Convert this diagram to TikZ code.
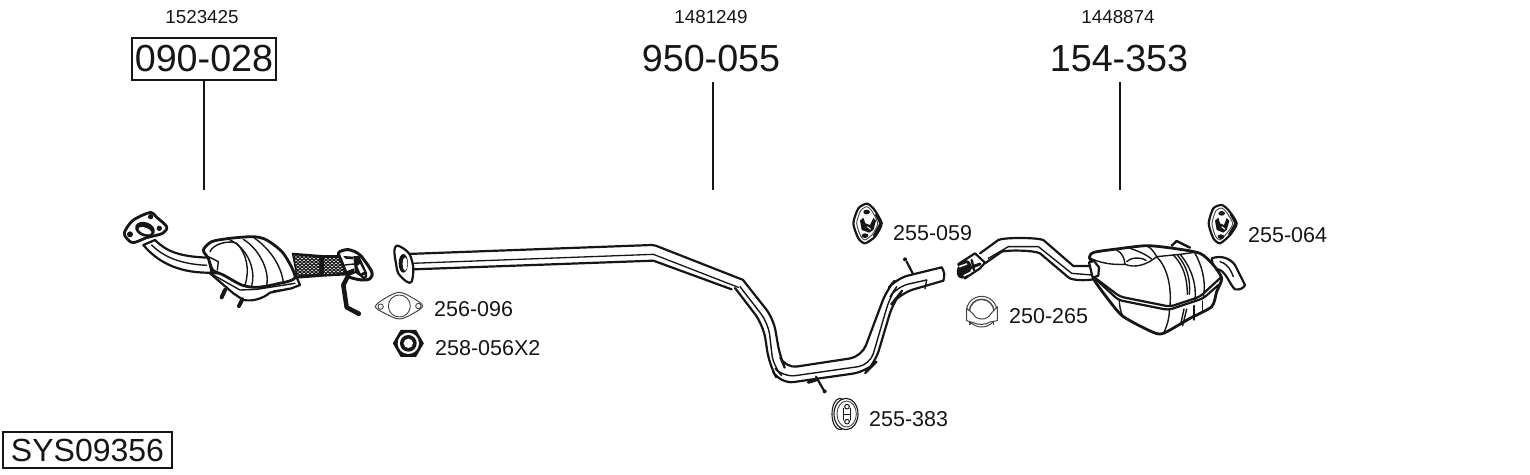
\documentclass[tikz,border=0pt]{standalone}
\usepackage{fontspec}
\setmainfont{Liberation Sans}
\usetikzlibrary{shapes.geometric}
\definecolor{ink}{HTML}{161616}
\tikzset{
 big/.style={font=\fontsize{37.7}{40}\selectfont,text=ink,inner sep=0pt},
 small/.style={font=\fontsize{18.8}{20}\selectfont,text=ink,inner sep=0pt},
 lab/.style={font=\fontsize{21.5}{24}\selectfont,text=ink,inner sep=0pt,anchor=west},
 leader/.style={draw=ink,line width=1.1pt},
 hv/.style={draw=ink,line width=2.2pt,line join=round,line cap=round},
 md/.style={draw=ink,line width=1.4pt,line join=round,line cap=round},
 th/.style={draw=ink!80,line width=.9pt,line join=round},
 zoomA/.style={x=.33333pt,y=-.33333pt,shift={(110pt,-190pt)}},
 zoomB/.style={x=.33333pt,y=-.33333pt,shift={(940pt,-190pt)}},
 zoomC/.style={x=.33333pt,y=-.33333pt,shift={(730pt,-190pt)}},
 zoomD/.style={x=.33333pt,y=-.33333pt,shift={(370pt,-230pt)}},
 zoomF/.style={x=.33333pt,y=-.33333pt,shift={(1080pt,-235pt)}},
}
\begin{document}
\begin{tikzpicture}[x=1pt,y=-1pt]
\useasboundingbox (0,0) rectangle (1530,474);
% ---- labels
\node[small] (n1) at (202,17) {1523425};
\node[small] (n2) at (711,17) {1481249};
\node[small] (n3) at (1118,17) {1448874};
\node[big,draw=ink,line width=1.2pt,minimum width=144pt,minimum height=42pt] (p1) at (204,59) {090-028};
\node[big] (p2) at (711,59) {950-055};
\node[big] (p3) at (1119,59) {154-353};
\coordinate (e1) at (204,190);
\coordinate (s2) at (713,82);
\coordinate (e2) at (713,190);
\coordinate (s3) at (1120,82);
\coordinate (e3) at (1120,190);
\draw[leader] (p1.south) -- (e1);
\draw[leader] (s2) -- (e2);
\draw[leader] (s3) -- (e3);
\node[lab] (a1) at (893,233) {255-059};
\node[lab] (a2) at (1248,235) {255-064};
\node[lab] (a3) at (434,309) {256-096};
\node[lab] (a4) at (435,348) {258-056X2};
\node[lab] (a5) at (1009,316) {250-265};
\node[lab] (a6) at (869,419) {255-383};
\node[draw=ink,line width=1.2pt,minimum width=169pt,minimum height=36pt,inner sep=0pt,font=\fontsize{32}{34}\selectfont,text=ink] (sys) at (87.5,450) {SYS09356};
% ---- catalyst
\begin{scope}[zoomA]
 % pipe
 \draw[hv,fill=white] (135,150) .. controls (170,185) and (210,200) .. (295,203) -- (305,248) .. controls (220,250) and (150,225) .. (100,165) -- cycle;
 \draw[md] (125,165) .. controls (160,200) and (210,222) .. (290,226);
 % flange
 \draw[hv,line width=2.8pt,fill=white] plot[smooth cycle,tension=.5] coordinates {(43,128) (60,100) (78,85) (122,67) (140,82) (170,110) (158,130) (110,143) (70,158) (50,145)};
 \draw[hv,fill=ink] (105,118) ellipse [x radius=27,y radius=18,rotate=-20];
 \draw[fill=white,draw=none] (105,122) ellipse [x radius=20,y radius=9,rotate=-20];
 \fill[ink] (122,80) circle (8) (60,133) circle (9) (148,115) circle (8);
 % lower shell
 \draw[hv,fill=white] (300,250) -- (370,310) -- (400,330) .. controls (430,335) and (460,325) .. (480,308) -- (545,295) -- (570,285) -- (555,250) -- cycle;
 \draw[md] (310,255) -- (390,300) -- (440,298) -- (555,280);
 \draw[md] (490,303) -- (535,297);
 % upper shell
 \draw[hv,line width=2.8pt,fill=white] plot[smooth cycle,tension=.45] coordinates {(280,180) (305,155) (360,145) (430,140) (470,150) (520,190) (555,262) (500,282) (440,292) (395,285) (340,255) (308,240) (295,205)};
 \draw[md] (300,185) .. controls (310,160) and (360,150) .. (380,160) .. controls (410,190) and (420,240) .. (405,285);
 \draw[md] (360,150) .. controls (405,170) and (440,230) .. (425,288);
 \draw[md] (430,142) .. controls (480,175) and (515,230) .. (520,278);
 \draw[md] (400,148) .. controls (445,175) and (480,240) .. (470,286);
 \draw[md] (295,200) -- (325,215) -- (322,240);
 % studs
 \draw[hv,line width=4pt] (345,300) -- (335,322);
 \draw[hv,line width=4pt] (397,328) -- (387,348);
 % flexible mesh: black band with white diamonds
 \fill[ink] (545,188) -- (635,195) -- (708,196) -- (712,256) -- (640,260) -- (560,266) -- cycle;
 \begin{scope}
  \clip (553,196) -- (628,203) -- (628,250) -- (562,256) -- cycle;
  \foreach \i in {0,...,7} \foreach \j in {0,...,6} {
    \fill[white] (552+\i*12,196+\j*10) +(0,-2.2) -- +(3,0) -- +(0,2.2) -- +(-3,0) -- cycle;
    \fill[white] (558+\i*12,201+\j*10) +(0,-2.2) -- +(3,0) -- +(0,2.2) -- +(-3,0) -- cycle;
  }
 \end{scope}
 \begin{scope}
  \clip (642,204) -- (702,204) -- (704,248) -- (642,252) -- cycle;
  \foreach \i in {0,...,7} \foreach \j in {0,...,6} {
    \fill[white] (642+\i*12,200+\j*10) +(0,-2.2) -- +(3,0) -- +(0,2.2) -- +(-3,0) -- cycle;
    \fill[white] (648+\i*12,205+\j*10) +(0,-2.2) -- +(3,0) -- +(0,2.2) -- +(-3,0) -- cycle;
  }
 \end{scope}
 % rear flange
 \draw[hv,line width=3pt,fill=white] plot[smooth cycle,tension=.5] coordinates {(686,188) (715,179) (750,195) (785,245) (780,266) (755,270) (715,260) (705,240) (695,215)};
 \fill[ink] (730,198) -- (748,198) -- (772,250) -- (755,262) -- (735,248) -- cycle;
 \fill[white] (750,222) -- (762,245) -- (752,250) -- (742,228) -- cycle;
 \fill[ink] (762,257) circle (10);
 \fill[white] (762,257) circle (2.5);
 \fill[ink] (700,198) -- (730,200) -- (730,208) -- (706,206) -- cycle;
 \fill[ink] (706,245) -- (732,235) -- (735,250) -- (712,260) -- cycle;
 \draw[ink,line width=1.4pt] (704,225) -- (732,222);
 % bracket
 \draw[ink,line width=4.5pt,line join=round,line cap=round] (712,262) -- (700,285) -- (710,352) -- (746,371);
 \draw[white,line width=1.1pt] (712,285) -- (719,340);
 \fill[ink] (746,371) circle (7);
\end{scope}
% ---- gasket, nut
\begin{scope}[zoomD]
 \draw[th,fill=white,line width=1pt] plot[smooth cycle,tension=.55] coordinates {(16,230) (45,205) (88,187) (130,205) (158,228) (130,250) (88,267) (45,250)};
 \draw[th] (88,228) circle (33) (32,230) circle (8) (145,228) circle (8);
 \node[regular polygon,regular polygon sides=6,fill=ink,minimum size=31pt,inner sep=0pt] (nut) at (115,340) {};
 \fill[white] (115,340) circle (32);
 \fill[ink] (115,340) circle (25);
 \fill[white] (115,340) circle (14);
 % pipe, straight part
 \draw[hv] (112,72) -- (845,45) .. controls (855,45) and (860,48) .. (870,52) -- (1120,150);
 \draw[hv] (130,118) -- (850,92) -- (1085,178);
 \draw[md,line width=1.3pt] (125,100) -- (850,73) -- (1105,172);
 \draw[hv,fill=white] plot[smooth cycle,tension=.5] coordinates {(73,62) (80,47) (100,55) (120,75) (130,115) (125,155) (110,155) (85,130) (77,95)};
 \fill[ink] (100,100) ellipse [x radius=14,y radius=28];
 \fill[white] (105,102) ellipse [x radius=7,y radius=20];
\end{scope}
% ---- centre pipe
\begin{scope}[zoomC]
 \draw[hv,rounded corners=12pt] (39,270) -- (130,385) -- (150,500) -- (165,535) -- (395,500) -- (470,300) -- (500,265) -- (635,232);
 \draw[hv,rounded corners=4pt] (635,232) -- (645,250) -- (640,272);
 \draw[hv,rounded corners=14pt] (15,294) -- (100,405) -- (118,525) -- (150,582) -- (410,545) -- (435,520) -- (490,335) -- (510,310) -- (640,272);
 \draw[md,rounded corners=12pt] (30,290) -- (115,400) -- (130,530) -- (160,562) -- (420,525) -- (480,320) -- (500,290) -- (590,270);
 \draw[md] (590,270) -- (585,296);
 \draw[hv] (530,215) -- (548,250);
 \fill[ink] (525,208) circle (6);
 \draw[hv] (258,560) -- (282,602);
 \fill[ink] (284,604) circle (6);
 \draw[hv,line width=3pt] (235,577) -- (258,570);
 % mount 255-059
 \draw[hv,line width=2.2pt,fill=white] plot[smooth cycle,tension=.4] coordinates {(370,100) (385,55) (410,41) (430,55) (455,100) (435,140) (405,160) (385,145)};
 \draw[ink,line width=3pt] (438,72) -- (453,100) -- (432,140);
 \draw[th] plot[smooth cycle,tension=.4] coordinates {(380,100) (392,62) (410,50) (425,62) (443,100) (428,132) (405,150) (392,138)};
 \fill[ink] (410,66) ellipse [x radius=10,y radius=7];
 \fill[ink] (405,137) ellipse [x radius=10,y radius=7];
 \fill[ink] (390,92) -- (400,83) -- (406,100) -- (420,105) -- (430,84) -- (438,92) -- (430,120) -- (418,128) -- (395,120) -- cycle;
 \draw[white,line width=1pt] (412,110) -- (422,118);
 % mount 255-383
 \draw[md,line width=1.1pt,fill=white] (330,672) ellipse [x radius=24,y radius=47];
 \draw[md,line width=1.1pt,fill=white] (348,672) ellipse [x radius=36,y radius=47];
 \draw[th] (350,672) ellipse [x radius=29,y radius=39];
 \draw[md,line width=1pt] (340,655) -- (340,690) (362,655) -- (362,690) (340,672) -- (362,672);
 \draw[md,line width=1pt,fill=white] (351,650) circle (7) (351,695) circle (7);
\end{scope}
% ---- rear silencer
\begin{scope}[zoomB]
 % inlet
 \draw[hv] (120,190) -- (175,150) .. controls (190,142) and (290,142) .. (310,150) -- (400,228) -- (450,228);
 \draw[hv] (135,220) -- (185,185) .. controls (200,180) and (280,180) .. (300,190) -- (385,262) .. controls (395,272) and (440,272) .. (460,268);
 \draw[md] (145,205) -- (205,170) -- (295,170) -- (395,250) -- (455,255);
 % slotted end
 \draw[hv,fill=white] (105,190) -- (135,218) -- (120,235) -- (75,265) -- (55,222) -- cycle;
 \fill[ink] (72,238) ellipse [x radius=20,y radius=29,rotate=-25];
 \draw[white,line width=1.6pt,line cap=round] (58,230) -- (80,222);
 \draw[white,line width=1.6pt,line cap=round] (72,257) -- (90,248);
 \draw[ink,line width=3pt,line cap=round] (78,238) -- (120,222);
 \draw[ink,line width=2.4pt,line cap=round] (95,210) -- (102,240);
 % mount 255-064
 \draw[hv,line width=2.2pt,fill=white] plot[smooth cycle,tension=.4] coordinates {(806,100) (820,55) (845,45) (865,60) (890,100) (870,135) (840,160) (820,145)};
 \draw[ink,line width=3pt] (873,72) -- (888,100) -- (868,135);
 \draw[th] plot[smooth cycle,tension=.4] coordinates {(816,100) (828,62) (845,54) (858,65) (878,100) (862,128) (840,150) (826,138)};
 \fill[ink] (845,70) ellipse [x radius=10,y radius=7];
 \fill[ink] (843,140) ellipse [x radius=10,y radius=7];
 \fill[ink] (825,92) -- (835,83) -- (840,100) -- (852,105) -- (860,84) -- (868,92) -- (860,120) -- (850,128) -- (830,120) -- cycle;
 \draw[white,line width=1pt] (845,110) -- (855,118);
 % clamp 250-265
 \draw[th,line width=1pt] (125,365) circle (46);
 \draw[th,line width=1.4pt,fill=white] (125,365) circle (37);
 \draw[th,line width=1pt,fill=white] (80,355) -- (100,372) .. controls (108,392) and (142,392) .. (152,372) -- (172,350) -- (172,392) -- (150,396) .. controls (140,405) and (110,405) .. (100,398) -- (80,392) -- cycle;
 \draw[th,line width=1.6pt] (90,395) -- (90,406) (160,395) -- (160,404);
\end{scope}
% ---- silencer body
\begin{scope}[zoomF]
 % tail
 \draw[hv,fill=white] (395,70) .. controls (425,60) and (450,70) .. (465,90) -- (495,150) .. controls (490,160) and (480,165) .. (465,163) .. controls (450,150) and (440,115) .. (420,105) -- (400,100) -- cycle;
 \draw[md] (420,80) .. controls (440,85) and (450,100) .. (460,125);
 % hanger
 \draw[hv,line width=2.4pt] (275,32) -- (290,18) -- (330,38);
 % body
 \draw[hv,line width=2.8pt,fill=white] plot[smooth cycle,tension=.42] coordinates {(28,68) (42,52) (110,42) (200,32) (280,40) (360,55) (400,90) (425,130) (410,170) (395,215) (330,250) (250,295) (215,290) (130,245) (90,200) (40,130) (50,100)};
 % collar
 \draw[hv,fill=white] (27,82) -- (42,78) -- (57,97) -- (55,122) -- (38,128) -- cycle;
 % seams
 \draw[hv,rounded corners=4pt] (40,125) -- (120,185) -- (270,215) -- (360,185) -- (425,125);
 \draw[hv,rounded corners=4pt] (50,135) -- (115,195) -- (265,225) -- (370,190) -- (415,150);
 % upper shell lines
 \draw[md] (28,68) .. controls (60,85) and (100,90) .. (135,88) .. controls (165,100) and (200,90) .. (230,65) .. controls (260,95) and (275,150) .. (270,212);
 \draw[md] (110,45) .. controls (128,55) and (133,70) .. (135,88);
 \draw[md] (140,80) .. controls (150,68) and (180,65) .. (198,76);
 \draw[md] (150,40) .. controls (180,50) and (200,60) .. (215,72);
 \draw[md] (200,32) .. controls (215,40) and (225,55) .. (230,65);
 \draw[md] (230,65) -- (300,58) -- (345,52);
 \draw[md] (280,60) .. controls (310,90) and (322,130) .. (322,178);
 \draw[md] (292,60) .. controls (322,95) and (332,135) .. (328,178);
 \draw[md] (302,60) .. controls (335,100) and (350,150) .. (345,195);
 \draw[md] (345,55) .. controls (370,100) and (378,150) .. (370,185);
 % lower shell lines
 \draw[md] (118,195) .. controls (118,215) and (122,230) .. (128,243);
 \draw[md] (268,225) .. controls (268,250) and (262,270) .. (252,292);
 \draw[md] (312,222) -- (302,268);
 \draw[md] (320,222) -- (308,272);
 \draw[md] (342,212) -- (342,255);
 \draw[md] (368,198) -- (368,232);
\end{scope}
\end{tikzpicture}
\end{document}
